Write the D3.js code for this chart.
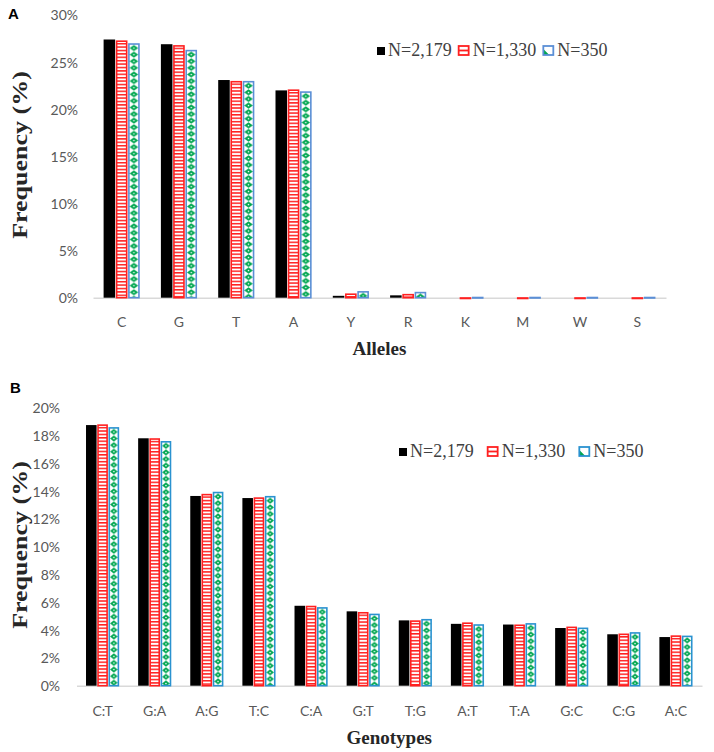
<!DOCTYPE html>
<html>
<head>
<meta charset="utf-8">
<script src="https://cdn.jsdelivr.net/npm/d3@7"></script>
<style>
html,body{margin:0;padding:0;background:#fff;}
svg{display:block;}
</style>
</head>
<body>
<svg id="chart" width="714" height="752"></svg>
<script>
// ---------- DATA ----------
const seriesNames = ["N=2,179", "N=1,330", "N=350"];

const alleles = ["C", "G", "T", "A", "Y", "R", "K", "M", "W", "S"];
const allelesN2179 = [27.4, 26.9, 23.1, 22.0, 0.2, 0.25, 0.0, 0.0, 0.0, 0.0];
const allelesN1330 = [27.3, 26.8, 23.0, 22.1, 0.45, 0.4, 0.05, 0.05, 0.05, 0.05];
const allelesN350  = [27.0, 26.3, 23.0, 21.9, 0.7, 0.62, 0.1, 0.1, 0.1, 0.1];
const allelesTicks = [0, 5, 10, 15, 20, 25, 30];

const genotypes = ["C:T", "G:A", "A:G", "T:C", "C:A", "G:T", "T:G", "A:T", "T:A", "G:C", "C:G", "A:C"];
const genotypesN2179 = [18.75, 17.8, 13.65, 13.5, 5.75, 5.35, 4.7, 4.45, 4.4, 4.15, 3.7, 3.5];
const genotypesN1330 = [18.8, 17.8, 13.8, 13.55, 5.75, 5.3, 4.7, 4.55, 4.4, 4.25, 3.75, 3.62];
const genotypesN350  = [18.6, 17.6, 13.95, 13.65, 5.65, 5.18, 4.8, 4.42, 4.5, 4.18, 3.85, 3.6];
const genotypesTicks = [0, 2, 4, 6, 8, 10, 12, 14, 16, 18, 20];

// ---------- DRAW ----------
const svg = d3.select("#chart");
const defs = svg.append("defs");
const RED = "#ff2020";
const GREEN = "#00a650";
let patId = 0;

function redPattern(x, y) {
  const id = "rp" + (patId++);
  const p = defs.append("pattern").attr("id", id).attr("patternUnits", "userSpaceOnUse")
    .attr("x", x).attr("y", y).attr("width", 40).attr("height", 3.4);
  p.append("rect").attr("width", 40).attr("height", 3.4).attr("fill", "#fff");
  p.append("rect").attr("y", 0).attr("width", 40).attr("height", 1.5).attr("fill", RED);
  return "url(#" + id + ")";
}
function greenPattern(x, y, w) {
  const id = "gp" + (patId++);
  const h = 6.6;
  const p = defs.append("pattern").attr("id", id).attr("patternUnits", "userSpaceOnUse")
    .attr("x", x).attr("y", y).attr("width", w).attr("height", h);
  p.append("rect").attr("width", w).attr("height", h).attr("fill", "#fff");
  p.append("path")
    .attr("d", `M${w/2},${h*0.05} L${w},${h/2} L${w/2},${h*0.95} L0,${h/2} Z`)
    .attr("fill", GREEN);
  p.append("circle").attr("cx", w/2).attr("cy", h/2).attr("r", Math.min(w, h) * 0.12).attr("fill", "#fff");
  return "url(#" + id + ")";
}

function panel(cfg) {
  const { cats, vals, ticks, yMax, x0, x1, yBottom, yTop, blue, pInner, tickLabelY, titleY, title,
          yTitleY, letter, letterY, legendX, legendY, legendGap } = cfg;
  const g = svg.append("g");
  const x = d3.scaleBand().domain(cats).range([x0, x1]).paddingInner(pInner).paddingOuter(pInner / 2);
  const xs = d3.scaleBand().domain(seriesNames).range([0, x.bandwidth()]).paddingInner(0.06);
  const y = d3.scaleLinear().domain([0, yMax]).range([yBottom, yTop]);

  // y tick labels
  const yAxis = d3.axisLeft(y).tickValues(ticks).tickSize(0).tickPadding(0).tickFormat(d => d + "%");
  const ya = g.append("g").attr("transform", `translate(${cfg.yLabelRight},0)`).call(yAxis);
  ya.select(".domain").remove();
  ya.selectAll("text").attr("font-family", "Lato, 'Open Sans', sans-serif").attr("font-size", 14)
    .attr("fill", "#595959").attr("dy", "0.35em");

  // x axis line
  const xAxis = d3.axisBottom(x).tickSize(0).tickPadding(0);
  const xa = g.append("g").attr("transform", `translate(0,${yBottom})`).call(xAxis);
  xa.select(".domain").attr("stroke", "#d9d9d9").attr("stroke-width", 1.5);
  xa.selectAll("text").attr("font-family", "Lato, 'Open Sans', sans-serif").attr("font-size", 14)
    .attr("fill", "#595959").attr("y", tickLabelY - yBottom).attr("dy", 0);

  // bars
  const rows = cats.map((c, i) => ({ c, v: vals.map(s => s[i]) }));
  rows.forEach(r => {
    r.v.forEach((v, si) => {
      const bx = x(r.c) + xs(seriesNames[si]);
      const bw = xs.bandwidth();
      const by = y(v);
      const bh = yBottom - by;
      if (si === 0) {
        if (bh > 0.3) g.append("rect").attr("x", bx).attr("y", by).attr("width", bw).attr("height", bh).attr("fill", "#000");
        else if (v > 0) g.append("rect").attr("x", bx).attr("y", by - 1).attr("width", bw).attr("height", 2).attr("fill", "#333");
      } else if (si === 1) {
        if (bh > 0) g.append("rect").attr("x", bx + 0.75).attr("y", by + 0.75).attr("width", bw - 1.5)
          .attr("height", Math.max(bh - 0.75, 0.5)).attr("fill", redPattern(bx, by + 2.5)).attr("stroke", RED).attr("stroke-width", 1.6);
      } else {
        if (bh > 0) g.append("rect").attr("x", bx + 0.75).attr("y", by + 0.75).attr("width", bw - 1.5)
          .attr("height", Math.max(bh - 0.75, 0.5)).attr("fill", greenPattern(bx + 1.5, by + 1.5, bw - 3)).attr("stroke", blue).attr("stroke-width", 1.6);
      }
    });
  });

  // axis titles
  g.append("text").attr("x", (x0 + x1) / 2).attr("y", titleY).attr("text-anchor", "middle")
    .attr("font-family", "'Liberation Serif', 'Times New Roman', serif").attr("font-weight", "bold")
    .attr("font-size", 19).attr("fill", "#262626").text(title);
  g.append("text").attr("transform", `translate(27,${yTitleY}) rotate(-90) scale(1.3,1)`).attr("text-anchor", "middle")
    .attr("font-family", "'Liberation Serif', 'Times New Roman', serif").attr("font-weight", "bold")
    .attr("font-size", 20).attr("fill", "#262626").text("Frequency (%)");
  // panel letter
  g.append("text").attr("x", cfg.letterX).attr("y", letterY).attr("font-family", "'Liberation Sans', Arial, sans-serif")
    .attr("font-weight", "bold").attr("font-size", 15).attr("fill", "#000").text(letter);

  // legend
  const lg = g.append("g");
  let cx = legendX;
  seriesNames.forEach((name, si) => {
    const s = 9;
    const iy = legendY - 10;
    if (si === 0) {
      lg.append("rect").attr("x", cx).attr("y", iy + 1).attr("width", 8).attr("height", 8).attr("fill", "#000");
      cx += 8;
    } else if (si === 1) {
      lg.append("rect").attr("x", cx + 1).attr("y", iy).attr("width", s + 1).attr("height", s).attr("fill", "#fff")
        .attr("stroke", RED).attr("stroke-width", 1.8);
      lg.append("line").attr("x1", cx + 1).attr("x2", cx + s + 2).attr("y1", iy + s / 2).attr("y2", iy + s / 2)
        .attr("stroke", RED).attr("stroke-width", 1.8);
      cx += s + 3;
    } else {
      lg.append("path").attr("d", `M${cx + 1},${iy + s} L${cx + 1},${iy + 3} L${cx + 7},${iy + s} Z`).attr("fill", GREEN);
      lg.append("rect").attr("x", cx + 1).attr("y", iy).attr("width", s + 1).attr("height", s).attr("fill", "none")
        .attr("stroke", blue).attr("stroke-width", 1.8);
      cx += s + 3;
    }
    cx += 3;
    const t = lg.append("text").attr("x", cx).attr("y", legendY)
      .attr("font-family", "'Liberation Serif', 'Times New Roman', serif").attr("font-size", 18)
      .attr("fill", "#404040").text(name);
    cx += t.node().getComputedTextLength() + legendGap;
  });
}

panel({
  cats: alleles, vals: [allelesN2179, allelesN1330, allelesN350], ticks: allelesTicks, yMax: 30,
  x0: 93, x1: 666, yBottom: 297.7, yTop: 15, blue: "#5b8fd6", pInner: 0.37, yLabelRight: 78,
  tickLabelY: 327, titleY: 355, title: "Alleles", yTitleY: 155, letter: "A", letterX: 8, letterY: 19,
  legendX: 377, legendY: 56, legendGap: 6
});
panel({
  cats: genotypes, vals: [genotypesN2179, genotypesN1330, genotypesN350], ticks: genotypesTicks, yMax: 20,
  x0: 76.5, x1: 702, yBottom: 685.7, yTop: 407.7, blue: "#2a92d0", pInner: 0.365, yLabelRight: 60,
  tickLabelY: 716, titleY: 744, title: "Genotypes", yTitleY: 545, letter: "B", letterX: 10, letterY: 393,
  legendX: 399, legendY: 457, legendGap: 13
});
</script>
</body>
</html>
